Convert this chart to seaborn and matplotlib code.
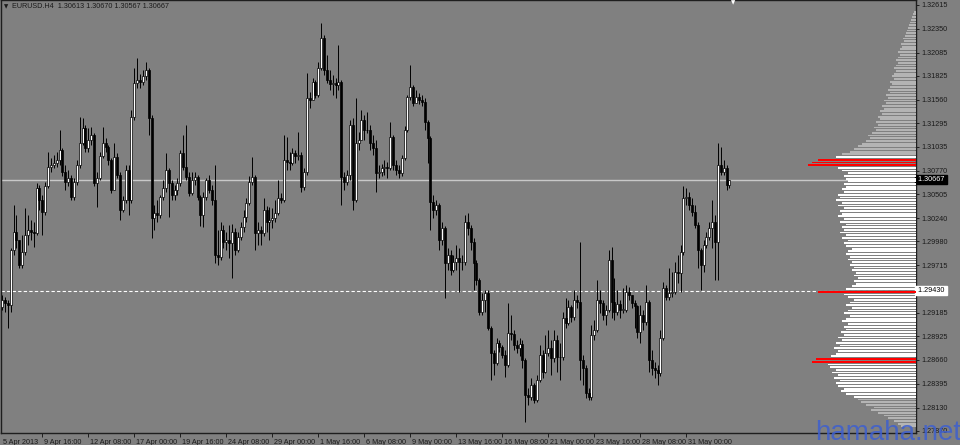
import numpy as np
import matplotlib
matplotlib.use("Agg")
import matplotlib.pyplot as plt
import seaborn as sns

# EURUSD H4 candles (prices x 1e-4), oldest first
first_open = 12925
closes = [
    12933, 12929, 12927, 12988, 13009, 13000, 12972, 12986, 13005, 13011,
    13009, 13007, 13058, 13044, 13031, 13060, 13081, 13083, 13085, 13089,
    13100, 13075, 13064, 13069, 13048, 13064, 13083, 13108, 13124, 13102,
    13111, 13117, 13063, 13069, 13093, 13108, 13103, 13089, 13055, 13092,
    13072, 13033, 13044, 13078, 13044, 13137, 13175, 13178, 13176, 13182,
    13189, 13136, 13024, 13030, 13027, 13048, 13058, 13078, 13063, 13050,
    13055, 13063, 13097, 13081, 13070, 13052, 13066, 13070, 13048, 13027,
    13048, 13066, 13055, 13044, 12983, 12981, 13011, 12997, 13000, 12996,
    13009, 12988, 13003, 13014, 13025, 13041, 13064, 13070, 13007, 13011,
    13007, 13033, 13020, 13022, 13024, 13030, 13046, 13044, 13089, 13087,
    13085, 13097, 13093, 13094, 13059, 13075, 13158, 13156, 13176, 13161,
    13191, 13225, 13189, 13178, 13173, 13175, 13172, 13176, 13070, 13064,
    13072, 13128, 13044, 13108, 13111, 13133, 13122, 13122, 13108, 13102,
    13074, 13075, 13080, 13081, 13080, 13114, 13083, 13078, 13074, 13091,
    13122, 13159, 13170, 13152, 13159, 13156, 13153, 13131, 13113, 13042,
    13033, 13039, 13000, 13013, 12974, 12983, 12966, 12975, 12980, 12975,
    12975, 13020, 13013, 12997, 12974, 12955, 12919, 12933, 12941, 12902,
    12874, 12863, 12885, 12880, 12872, 12860, 12896, 12895, 12883, 12879,
    12884, 12866, 12827, 12825, 12838, 12821, 12844, 12872, 12853, 12874,
    12879, 12868, 12888, 12869, 12869, 12913, 12907, 12925, 12914, 12933,
    12931, 12866, 12857, 12829, 12825, 12894, 12899, 12933, 12929, 12916,
    12922, 12977, 12931, 12919, 12928, 12922, 12922, 12942, 12938, 12929,
    12926, 12897, 12916, 12908, 12931, 12866, 12857, 12855, 12851, 12890,
    12946, 12936, 12941, 12942, 12964, 12963, 12986, 13046, 13048, 13039,
    13031, 13016, 12988, 12972, 12994, 13003, 13013, 13020, 12997, 13083,
    13075, 13080, 13061, 13067,
]
highs = [
    12938, 12936, 12933, 12991, 13039, 13027, 13000, 13005, 13035, 13027,
    13022, 13020, 13063, 13061, 13050, 13064, 13098, 13091, 13094, 13098,
    13122, 13102, 13083, 13078, 13072, 13069, 13089, 13137, 13136, 13128,
    13124, 13126, 13119, 13075, 13098, 13126, 13113, 13105, 13091, 13108,
    13097, 13075, 13049, 13083, 13083, 13144, 13191, 13202, 13185, 13189,
    13198, 13191, 13139, 13039, 13044, 13050, 13066, 13097, 13080, 13066,
    13061, 13069, 13100, 13117, 13128, 13075, 13075, 13075, 13072, 13050,
    13053, 13069, 13072, 13061, 13083, 13011, 13020, 13016, 13009, 13016,
    13017, 13013, 13009, 13020, 13033, 13046, 13071, 13092, 13072, 13020,
    13015, 13046, 13038, 13036, 13035, 13044, 13066, 13052, 13117, 13114,
    13098, 13102, 13100, 13120, 13098, 13080, 13186, 13165, 13180, 13178,
    13198, 13241, 13228, 13206, 13189, 13183, 13180, 13217, 13178, 13075,
    13078, 13133, 13136, 13158, 13120, 13144, 13139, 13142, 13128, 13117,
    13111, 13083, 13084, 13089, 13087, 13131, 13117, 13089, 13083, 13094,
    13127, 13161, 13195, 13172, 13167, 13163, 13161, 13158, 13133, 13115,
    13050, 13044, 13041, 13020, 13015, 12991, 12988, 12983, 12994, 12991,
    12983, 13027, 13030, 13016, 13002, 12977, 12957, 12941, 12944, 12944,
    12904, 12877, 12890, 12888, 12883, 12877, 12929, 12916, 12899, 12888,
    12890, 12888, 12868, 12835, 12846, 12840, 12849, 12883, 12877, 12894,
    12899, 12888, 12899, 12894, 12885, 12919, 12935, 12933, 12927, 12944,
    12938, 12997, 12872, 12860, 12835, 12905, 12911, 12955, 12944, 12933,
    12927, 12988, 12992, 12957, 12944, 12933, 12946, 12950, 12947, 12938,
    12933, 12927, 12927, 12922, 12950, 12933, 12877, 12864, 12860, 12899,
    12953, 12950, 12968, 12964, 12975, 12983, 12994, 13060, 13058, 13053,
    13046, 13039, 13020, 12991, 13000, 13009, 13020, 13044, 13027, 13108,
    13103, 13089, 13083, 13067,
]
lows = [
    12922, 12919, 12902, 12919, 12983, 12991, 12968, 12968, 12983, 12994,
    13000, 12992, 13005, 13033, 13005, 13027, 13058, 13075, 13080, 13081,
    13083, 13071, 13055, 13060, 13044, 13044, 13061, 13080, 13105, 13098,
    13098, 13105, 13060, 13036, 13066, 13091, 13098, 13083, 13052, 13055,
    13069, 13022, 13031, 13041, 13027, 13041, 13133, 13169, 13169, 13172,
    13178, 13117, 13002, 13011, 13020, 13024, 13044, 13053, 13025, 13044,
    13044, 13050, 13060, 13078, 13066, 13049, 13050, 13061, 13044, 13015,
    13014, 13044, 13052, 13039, 12974, 12972, 12977, 12991, 12988, 12980,
    12957, 12983, 12986, 13000, 13009, 13020, 13039, 13061, 12988, 12994,
    12994, 13004, 13009, 13000, 13013, 13020, 13027, 13041, 13042, 13078,
    13078, 13083, 13085, 13089, 13053, 13055, 13072, 13147, 13158, 13158,
    13159, 13189, 13183, 13175, 13167, 13161, 13158, 13167, 13039, 13055,
    13061, 13066, 13033, 13042, 13100, 13117, 13111, 13119, 13100, 13094,
    13053, 13069, 13071, 13072, 13069, 13078, 13078, 13072, 13069, 13071,
    13089, 13120, 13156, 13149, 13152, 13151, 13149, 13122, 13085, 13011,
    13024, 13027, 12988, 12994, 12935, 12966, 12961, 12964, 12966, 12942,
    12966, 12972, 13005, 12988, 12944, 12950, 12916, 12916, 12919, 12899,
    12844, 12849, 12860, 12875, 12868, 12847, 12858, 12888, 12877, 12874,
    12870, 12857, 12797, 12816, 12821, 12818, 12819, 12841, 12846, 12851,
    12870, 12849, 12864, 12853, 12844, 12866, 12902, 12905, 12908, 12911,
    12924, 12844, 12838, 12824, 12821, 12821, 12888, 12897, 12918, 12911,
    12905, 12919, 12913, 12911, 12916, 12913, 12918, 12919, 12933, 12924,
    12902, 12890, 12885, 12899, 12905, 12853, 12849, 12846, 12838, 12848,
    12888, 12933, 12933, 12936, 12939, 12952, 12942, 12983, 13039, 13033,
    13026, 13013, 12968, 12944, 12964, 12991, 13000, 12991, 12955, 12955,
    13072, 13072, 13055, 13057,
]

# time axis labels (every 16 bars)
date_labels = ["5 Apr 2013", "9 Apr 16:00", "12 Apr 08:00", "17 Apr 00:00", "19 Apr 16:00",
               "24 Apr 08:00", "29 Apr 00:00", "1 May 16:00", "6 May 08:00", "9 May 00:00",
               "13 May 16:00", "16 May 08:00", "21 May 00:00", "23 May 16:00", "28 May 08:00",
               "31 May 00:00"]
date_bars = [-2, 14, 30, 46, 62, 78, 94, 110, 126, 142, 158, 174, 190, 206, 222, 238]

# price scale labels
price_ticks = [1.32615, 1.32350, 1.32085, 1.31825, 1.31560, 1.31295, 1.31035, 1.30770,
               1.30505, 1.30240, 1.29980, 1.29715, 1.29185, 1.28925, 1.28660, 1.28395,
               1.28130, 1.27870]
last_price = 1.30667
level_price = 1.29430

# volume profile: one row per 3 pips from 1.2792 upward
profile_start = 1.2792
profile_step = 0.0003
profile_len = [
    15, 18, 22, 28, 32, 38, 45, 42, 50, 55,
    58, 62, 70, 75, 72, 78, 80, 76, 82, 78,
    84, 80, 86, 88, 104, 100, 85, 80, 78, 82,
    76, 80, 74, 78, 72, 75, 70, 72, 68, 74,
    70, 66, 72, 68, 64, 70, 66, 62, 68, 72,
    98, 70, 64, 60, 62, 58, 62, 60, 64, 62,
    66, 64, 68, 66, 70, 68, 64, 70, 72, 68,
    74, 70, 76, 72, 74, 70, 76, 72, 78, 74,
    76, 72, 78, 74, 80, 76, 78, 72, 74, 70,
    72, 68, 70, 72, 68, 74, 78, 108, 104, 98,
    80, 74, 66, 62, 58, 54, 50, 46, 48, 44,
    40, 42, 38, 40, 36, 38, 34, 36, 32, 34,
    30, 32, 28, 30, 26, 28, 26, 24, 26, 22,
    24, 22, 20, 22, 20, 18, 20, 18, 16, 18,
    16, 14, 15, 12, 13, 11, 10, 9, 8, 7,
    6, 5, 4, 3, 2,
]
red_rows = [24, 25, 50, 97, 98, 99]
white_rows = (11, 100)  # value area

BG = "#808080"
sns.set_theme(style="white", rc={"axes.facecolor": BG, "figure.facecolor": BG,
                                 "axes.edgecolor": "#202020"})
plt.rcParams["font.family"] = ["Liberation Sans", "DejaVu Sans"]

fig = plt.figure(figsize=(9.6, 4.45), dpi=100)
ax = fig.add_axes([1 / 960, 12 / 445, 915 / 960, 433 / 445])

c = np.array(closes) / 1e4
o = np.concatenate([[first_open], closes[:-1]]) / 1e4
h = np.maximum.reduce([np.array(highs) / 1e4, o, c])
l = np.minimum.reduce([np.array(lows) / 1e4, o, c])
x = np.arange(len(c))

ax.axhline(last_price, color="#c8c8c8", lw=1, zorder=1)
ax.axhline(level_price, color="white", lw=0.8, ls=(0, (3, 2)), zorder=1)

ax.vlines(x, l, h, color="black", lw=0.7, zorder=3)
up = c >= o
body = np.maximum(np.abs(c - o), 0.00003)
ax.bar(x[up], body[up], bottom=o[up], width=0.7, color="white",
       edgecolor="black", linewidth=0.5, zorder=4)
ax.bar(x[~up], body[~up], bottom=c[~up], width=0.7, color="black",
       edgecolor="black", linewidth=0.5, zorder=4)

ax.set_xlim(-0.35, 317.9)
ax.set_ylim(1.27846, 1.3267)

# volume profile drawn from the right edge
axp = ax.twiny()
axp.set_xlim(915, 0)
axp.axis("off")
levels = profile_start + profile_step * np.arange(len(profile_len))
colors = []
for k in range(len(profile_len)):
    if k in red_rows:
        colors.append("#ff0000")
    elif white_rows[0] <= k <= white_rows[1]:
        colors.append("white")
    else:
        colors.append("#b4b4b4")
axp.barh(levels, profile_len, height=0.0002, color=colors, edgecolor="none",
         linewidth=0, zorder=2)

# axes styling
for s in ax.spines.values():
    s.set_color("#1e1e1e")
    s.set_linewidth(1)
ax.yaxis.tick_right()
ax.set_yticks(price_ticks)
ax.set_yticklabels([f"{p:.5f}" for p in price_ticks])
ax.tick_params(axis="y", length=2.5, width=0.7, color="#1e1e1e", pad=1.5,
               labelsize=5.2, labelcolor="#1a1a1a")
ax.set_xticks(date_bars[1:])
ax.set_xticklabels([])
ax.tick_params(axis="x", length=3, width=0.7, color="#1e1e1e")
for xb, lab in zip(date_bars, date_labels):
    ax.annotate(lab, xy=(max(xb, -0.3), 0), xycoords=("data", "axes fraction"),
                xytext=(1.5, -4), textcoords="offset points", ha="left", va="top",
                fontsize=5.2, color="#1a1a1a", annotation_clip=False)

box_tr = ax.get_yaxis_transform()
ax.text(1.0, last_price, " 1.30667 ", transform=box_tr, ha="left", va="center",
        fontsize=5.2, color="white",
        bbox=dict(boxstyle="square,pad=0.15", fc="black", ec="black"))
ax.text(1.0, level_price, " 1.29430 ", transform=box_tr, ha="left", va="center",
        fontsize=5.2, color="black",
        bbox=dict(boxstyle="square,pad=0.15", fc="white", ec="white"))

fig.text(4 / 960, 1 - 7 / 445, "\u25bc", fontsize=4, color="#1a1a1a", va="center",
         family="DejaVu Sans")
fig.text(12 / 960, 1 - 7 / 445, "EURUSD.H4  1.30613 1.30670 1.30567 1.30667",
         fontsize=5.2, color="#1a1a1a", va="center")
fig.text(733 / 960, 1 - 3 / 445, "\u25bc", fontsize=4, color="white", ha="center",
         va="center", family="DejaVu Sans")
# watermark sits over the bottom of the price scale, as in the screenshot
fig.text(815 / 960, 1 - 440 / 445, "hamaha.net", fontsize=20, color="#3d5fd0",
         alpha=0.85, va="baseline", ha="left")

fig.savefig("out.png", dpi=100, facecolor=BG)
